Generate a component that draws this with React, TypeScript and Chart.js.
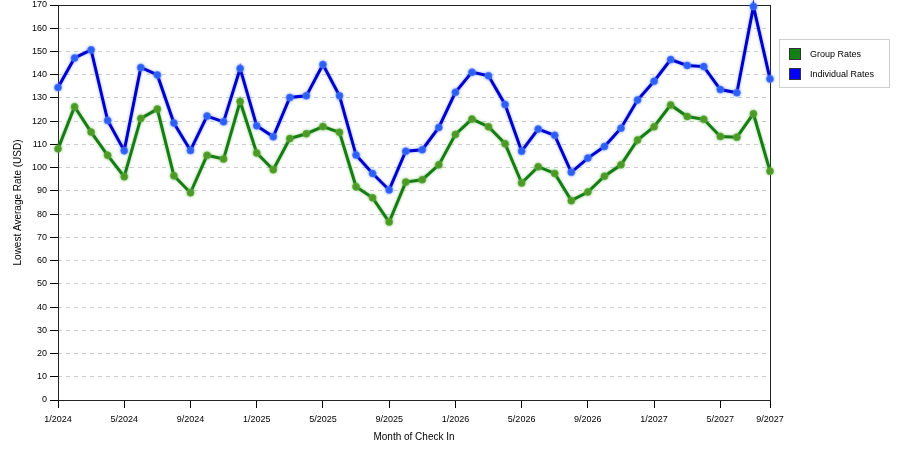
import React, { useEffect, useRef } from "react";
import { Chart, registerables } from "chart.js";

Chart.register(...registerables);

const months: string[] = [
  "1/2024", "2/2024", "3/2024", "4/2024", "5/2024", "6/2024", "7/2024", "8/2024", "9/2024", "10/2024", "11/2024", "12/2024",
  "1/2025", "2/2025", "3/2025", "4/2025", "5/2025", "6/2025", "7/2025", "8/2025", "9/2025", "10/2025", "11/2025", "12/2025",
  "1/2026", "2/2026", "3/2026", "4/2026", "5/2026", "6/2026", "7/2026", "8/2026", "9/2026", "10/2026", "11/2026", "12/2026",
  "1/2027", "2/2027", "3/2027", "4/2027", "5/2027", "6/2027", "7/2027", "8/2027",
];

const groupRates: number[] = [
  108.1, 126.2, 115.3, 105.3, 96.1, 121.2, 125.2, 96.5, 89.2, 105.3, 103.7, 128.5,
  106.3, 99.1, 112.5, 114.6, 117.7, 115.2, 91.8, 87.0, 76.6, 93.8, 94.8, 101.2,
  114.3, 120.9, 117.6, 110.3, 93.4, 100.4, 97.5, 85.8, 89.5, 96.3, 101.2, 111.9,
  117.6, 127.0, 122.0, 120.8, 113.4, 113.1, 123.2, 98.5,
];

const individualRates: number[] = [
  134.5, 147.2, 150.7, 120.3, 107.3, 143.1, 139.9, 119.2, 107.4, 122.2, 119.7, 142.7,
  118.0, 113.3, 130.2, 130.9, 144.4, 130.9, 105.4, 97.5, 90.4, 107.1, 107.7, 117.3,
  132.4, 141.1, 139.5, 127.2, 107.1, 116.6, 113.9, 98.0, 104.1, 109.1, 117.0, 129.1,
  137.2, 146.5, 144.0, 143.5, 133.6, 132.2, 169.4, 138.2,
];

const xTickIndices: number[] = [0, 4, 8, 12, 16, 20, 24, 28, 32, 36, 40, 43];
const xTickLabels: string[] = [
  "1/2024", "5/2024", "9/2024", "1/2025", "5/2025", "9/2025",
  "1/2026", "5/2026", "9/2026", "1/2027", "5/2027", "9/2027",
];

const seriesNames = ["Group Rates", "Individual Rates"];
const lineColors = ["#167d16", "#0000cc"];
const pointColors = ["#4c9a24", "#2a5ef5"];
const haloColors = ["rgba(90,170,60,0.6)", "rgba(80,120,255,0.6)"];
const legendColors = ["#138013", "#0000ff"];

const FONT = "'Liberation Sans', Arial, sans-serif";

const framePlugin = {
  id: "frame",
  beforeDatasetDraw(chart: any, args: any) {
    const ctx = chart.ctx;
    ctx.save();
    ctx.shadowColor = haloColors[args.index];
    ctx.shadowBlur = 3;
  },
  afterDatasetDraw(chart: any) {
    chart.ctx.restore();
  },
  beforeDatasetsDraw(chart: any) {
    const ctx = chart.ctx;
    const a = chart.chartArea;
    ctx.save();
    ctx.strokeStyle = "#222";
    ctx.lineWidth = 1;
    ctx.setLineDash([]);
    const l = Math.round(a.left) + 0.5;
    const t = Math.round(a.top) + 0.5;
    const r = Math.round(a.right) + 0.5;
    const b = Math.round(a.bottom) + 0.5;
    ctx.strokeRect(l, t, r - l, b - t);
    ctx.restore();
  },
  afterDraw(chart: any) {
    const ctx = chart.ctx;
    ctx.save();
    const lx = 779.5;
    const ly = 39.5;
    ctx.fillStyle = "#fff";
    ctx.fillRect(lx, ly, 110, 48);
    ctx.strokeStyle = "#cfcfcf";
    ctx.lineWidth = 1;
    ctx.strokeRect(lx, ly, 110, 48);
    ctx.font = `9px ${FONT}`;
    ctx.textBaseline = "middle";
    ctx.textAlign = "left";
    seriesNames.forEach((name, i) => {
      const y = 48 + i * 20;
      ctx.fillStyle = legendColors[i];
      ctx.fillRect(789, y, 12, 12);
      ctx.strokeStyle = "#333";
      ctx.strokeRect(789.5, y + 0.5, 11, 11);
      ctx.fillStyle = "#000";
      ctx.fillText(name, 810, y + 6.5);
    });
    ctx.restore();
  },
};

export default function App() {
  const ref = useRef<HTMLCanvasElement | null>(null);

  useEffect(() => {
    if (!ref.current) return;
    const chart = new Chart(ref.current, {
      type: "line",
      data: {
        labels: months,
        datasets: [groupRates, individualRates].map((d, i) => ({
          label: seriesNames[i],
          data: d,
          borderColor: lineColors[i],
          borderWidth: 3,
          pointRadius: 3.5,
          pointBackgroundColor: pointColors[i],
          pointBorderColor: haloColors[i],
          pointBorderWidth: 1,
          tension: 0,
          clip: false as any,
        })),
      },
      options: {
        animation: false,
        responsive: false,
        devicePixelRatio: 1,
        layout: { padding: { top: 5, right: 130, left: 0, bottom: 0 } },
        plugins: {
          legend: { display: false },
          tooltip: { enabled: false },
        },
        scales: {
          x: {
            type: "category",
            offset: false,
            afterBuildTicks: (scale: any) => {
              scale.ticks = xTickIndices.map((v) => ({ value: v }));
            },
            afterFit: (scale: any) => {
              scale.height = 50;
              scale.paddingLeft = 0;
              scale.paddingRight = 0;
            },
            ticks: {
              autoSkip: false,
              maxRotation: 0,
              minRotation: 0,
              padding: 6,
              color: "#000",
              font: { family: FONT, size: 9 },
              callback: (_v: any, i: number) => xTickLabels[i],
            },
            grid: {
              display: true,
              drawOnChartArea: false,
              drawTicks: true,
              tickLength: 8,
              tickColor: "#000",
            },
            border: { display: false },
            title: {
              display: true,
              text: "Month of Check In",
              color: "#000",
              font: { family: FONT, size: 10 },
              padding: { top: 0, bottom: 7 },
            },
          },
          y: {
            min: 0,
            max: 170,
            afterFit: (scale: any) => {
              scale.width = 58;
              scale.paddingTop = 0;
              scale.paddingBottom = 0;
            },
            ticks: {
              stepSize: 10,
              padding: 3,
              color: "#000",
              font: { family: FONT, size: 9 },
            },
            grid: {
              color: "#cccccc",
              tickColor: "#000",
              tickBorderDash: [],
              tickLength: 8,
            } as any,
            border: { display: false, dash: [4, 4] } as any,
            title: {
              display: true,
              text: "Lowest Average Rate (USD)",
              color: "#000",
              font: { family: FONT, size: 10 },
              padding: { top: 12, bottom: 0 },
            },
          },
        },
      },
      plugins: [framePlugin],
    });
    return () => chart.destroy();
  }, []);

  return (
    <div style={{ position: "fixed", left: 0, top: 0, width: 900, height: 450, background: "#fff" }}>
      <canvas ref={ref} width={900} height={450} />
    </div>
  );
}
